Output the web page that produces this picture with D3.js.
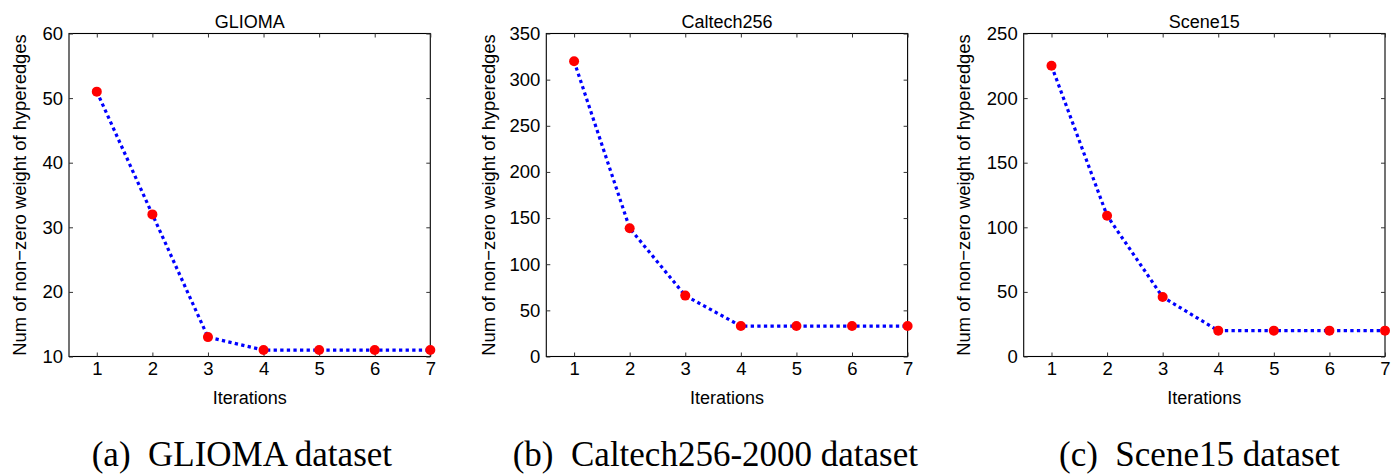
<!DOCTYPE html>
<html><head><meta charset="utf-8">
<script src="https://cdn.jsdelivr.net/npm/d3@7"></script>
<style>
html,body{margin:0;padding:0;background:#fff;}
svg{display:block;}
text{font-family:"Liberation Sans",Arial,Helvetica,sans-serif;fill:#000;}
.cap{font-family:"Liberation Serif","Times New Roman",serif;white-space:pre;}
</style>
</head><body>
<svg id="chart" width="1397" height="474"></svg>
<script>
// ---- data ----
const iterations = [1, 2, 3, 4, 5, 6, 7];
const gliomaValues = [51, 32, 13, 11, 11, 11, 11];
const caltechValues = [320, 139, 66, 33, 33, 33, 33];
const sceneValues = [225, 109, 46, 20, 20, 20, 20];
const gliomaTicks = [10, 20, 30, 40, 50, 60];
const caltechTicks = [0, 50, 100, 150, 200, 250, 300, 350];
const sceneTicks = [0, 50, 100, 150, 200, 250];
const titles = ["GLIOMA", "Caltech256", "Scene15"];
const captions = ["(a)  GLIOMA dataset", "(b)  Caltech256-2000 dataset", "(c)  Scene15 dataset"];
const yLabel = "Num of non\u2212zero weight of hyperedges";
const xLabel = "Iterations";

const seriesList = [gliomaValues, caltechValues, sceneValues];
const tickList = [gliomaTicks, caltechTicks, sceneTicks];

// ---- layout ----
const plotLefts = [69, 546.3, 1023.7];
const plotW = 361.3, plotTop = 33.5, plotBottom = 356.5;
const yLabelOffsets = [43, 51.5, 53.5];
const captionStarts = [91.7, 512.7, 1059];
const tickLen = 4;

const svg = d3.select("#chart");

seriesList.forEach((vals, i) => {
  const ticks = tickList[i];
  const x = d3.scaleLinear().domain([0.5, 7]).range([plotLefts[i], plotLefts[i] + plotW]);
  const y = d3.scaleLinear().domain([ticks[0], ticks[ticks.length - 1]]).range([plotBottom, plotTop]);
  const g = svg.append("g");

  // box
  g.append("rect").attr("x", x.range()[0]).attr("y", plotTop)
    .attr("width", plotW).attr("height", plotBottom - plotTop)
    .attr("fill", "none").attr("stroke", "#000").attr("stroke-width", 1.1);

  // axes with inner ticks
  const fmt = d3.format("d");
  const bottomAx = g.append("g").attr("transform", `translate(0,${plotBottom})`)
    .call(d3.axisBottom(x).tickValues(iterations).tickSize(-tickLen).tickPadding(5).tickFormat(fmt));
  const topAx = g.append("g").attr("transform", `translate(0,${plotTop})`)
    .call(d3.axisTop(x).tickValues(iterations).tickSize(-tickLen).tickFormat(""));
  const leftAx = g.append("g").attr("transform", `translate(${x.range()[0]},0)`)
    .call(d3.axisLeft(y).tickValues(ticks).tickSize(-tickLen).tickPadding(6).tickFormat(fmt));
  const rightAx = g.append("g").attr("transform", `translate(${x.range()[1]},0)`)
    .call(d3.axisRight(y).tickValues(ticks).tickSize(-tickLen).tickFormat(""));
  [bottomAx, topAx, leftAx, rightAx].forEach(a => {
    a.select(".domain").remove();
    a.selectAll(".tick line").attr("stroke", "#333").attr("stroke-width", 1);
    a.selectAll("text").attr("font-size", 18.5).attr("font-family", '"Liberation Sans",Arial,sans-serif').attr("fill", "#000");
  });
  bottomAx.selectAll("text").attr("dy", "0.71em");

  // line
  const line = d3.line().x((d, k) => x(iterations[k])).y(d => y(d));
  g.append("path").datum(vals).attr("d", line)
    .attr("fill", "none").attr("stroke", "#0000ff").attr("stroke-width", 3.2)
    .attr("stroke-dasharray", "3.3,3.3");

  // markers
  g.selectAll("circle.pt").data(vals).join("circle").attr("class", "pt")
    .attr("cx", (d, k) => x(iterations[k])).attr("cy", d => y(d)).attr("r", 5)
    .attr("fill", "#ff0000");

  // title
  const cx = (x.range()[0] + x.range()[1]) / 2;
  g.append("text").attr("x", cx).attr("y", 27.5).attr("text-anchor", "middle")
    .attr("font-size", 18).text(titles[i]);

  // x label
  g.append("text").attr("x", cx).attr("y", 403.5).attr("text-anchor", "middle")
    .attr("font-size", 18).text(xLabel);

  // y label
  const ly = (plotTop + plotBottom) / 2;
  const lx = x.range()[0] - yLabelOffsets[i];
  g.append("text").attr("transform", `translate(${lx},${ly}) rotate(-90)`)
    .attr("text-anchor", "middle").attr("font-size", 18.4).text(yLabel);

  // caption
  g.append("text").attr("class", "cap").attr("x", captionStarts[i]).attr("y", 466)
    .attr("font-size", 35).text(captions[i]);
});
</script>
</body></html>
